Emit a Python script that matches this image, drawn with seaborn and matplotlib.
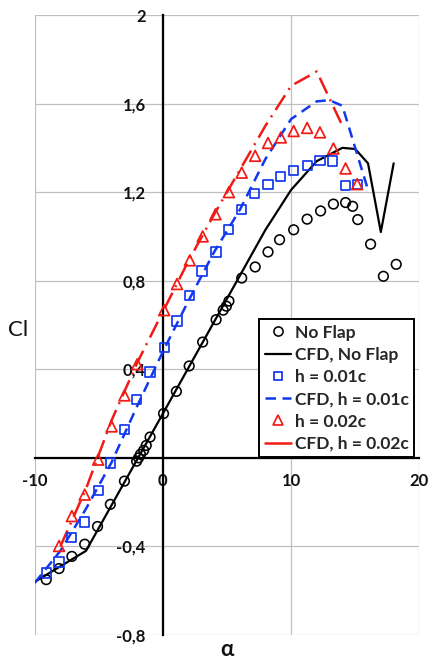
import matplotlib
matplotlib.use("Agg")
import matplotlib.pyplot as plt
from matplotlib.lines import Line2D
import seaborn as sns

# ---------------- data ----------------
noflap_alpha = [-9.1, -8.1, -7.1, -6.1, -5.1, -4.1, -3.0, -2.05, -1.9, -1.75, -1.5, -1.3, -1.0,
                0.05, 1.05, 2.05, 3.1, 4.15, 4.7, 4.95, 5.15, 6.15, 7.2, 8.2, 9.1, 10.2,
                11.25, 12.3, 13.3, 14.25, 14.8, 15.2, 16.2, 17.2, 18.2]
noflap_cl = [-0.55, -0.50, -0.445, -0.39, -0.31, -0.21, -0.105, -0.015, 0.0, 0.016, 0.034, 0.056, 0.094,
             0.20, 0.30, 0.415, 0.523, 0.624, 0.667, 0.685, 0.708, 0.812, 0.862, 0.93, 0.985, 1.03,
             1.078, 1.115, 1.146, 1.153, 1.136, 1.076, 0.965, 0.82, 0.874]

cfd_noflap_alpha = [-10, -6, 0, 8, 10, 12, 14, 15, 16, 17, 18]
cfd_noflap_cl = [-0.56, -0.42, 0.20, 1.03, 1.21, 1.34, 1.40, 1.395, 1.33, 1.02, 1.33]

h01_alpha = [-9.1, -8.1, -7.1, -6.1, -5.05, -4.1, -3.0, -2.05, -1.0, 0.1, 1.1, 2.05, 3.05,
             4.15, 5.1, 6.15, 7.15, 8.2, 9.2, 10.2, 11.25, 12.25, 13.2, 14.25, 15.2]
h01_cl = [-0.52, -0.47, -0.36, -0.29, -0.147, -0.023, 0.129, 0.264, 0.388, 0.50, 0.618, 0.734, 0.844,
          0.93, 1.031, 1.122, 1.194, 1.236, 1.272, 1.296, 1.319, 1.344, 1.341, 1.231, 1.235]

cfd_h01_alpha = [-10, -8, -6, -4, -2, 0, 2, 4, 6, 8, 10, 12, 13, 14, 15, 16]
cfd_h01_cl = [-0.565, -0.42, -0.23, -0.02, 0.235, 0.48, 0.71, 0.93, 1.12, 1.35, 1.53, 1.61, 1.615, 1.59, 1.40, 1.21]

h02_alpha = [-8.1, -7.1, -6.1, -5.05, -4.0, -3.0, -2.0, 0.1, 1.1, 2.1, 3.1, 4.1, 5.15, 6.15,
             7.2, 8.2, 9.2, 10.2, 11.25, 12.25, 13.3, 14.25, 15.15]
h02_cl = [-0.398, -0.263, -0.166, -0.008, 0.142, 0.282, 0.423, 0.667, 0.785, 0.892, 1.0, 1.10, 1.20, 1.288,
          1.364, 1.422, 1.447, 1.476, 1.49, 1.47, 1.397, 1.307, 1.236]

cfd_h02_alpha = [-8, -6, -4, -2, 0, 2, 4, 6, 8, 10, 12, 14]
cfd_h02_cl = [-0.40, -0.14, 0.17, 0.43, 0.66, 0.89, 1.10, 1.30, 1.50, 1.68, 1.745, 1.50]

x_ticks = [-10, 0, 10, 20]
x_ticklabels = ["-10", "0", "10", "20"]
y_ticks = [-0.8, -0.4, 0.4, 0.8, 1.2, 1.6, 2.0]
y_ticklabels = ["-0,8", "-0,4", "0,4", "0,8", "1,2", "1,6", "2"]
y_grid = [-0.8, -0.4, 0.0, 0.4, 0.8, 1.2, 1.6, 2.0]

legend_labels = ["No Flap", "CFD, No Flap", "h = 0.01c", "CFD, h = 0.01c", "h = 0.02c", "CFD, h = 0.02c"]

# ---------------- style ----------------
sns.set_style("white")
plt.rcParams["font.family"] = ["Lato", "DejaVu Sans"]

BLUE = "#1238ee"
RED = "#f21a14"
GRID = "#c0c0c0"

fig = plt.figure(figsize=(4.30, 6.71), dpi=100)
ax = fig.add_axes([34.7 / 430, 1 - 635 / 671, (419.3 - 34.7) / 430, (635 - 15) / 671])

# grid
for xv in x_ticks:
    ax.axvline(xv, color=GRID, lw=0.9, zorder=0)
for yv in y_grid:
    ax.axhline(yv, color=GRID, lw=0.9, zorder=0)

# lines
sns.lineplot(x=cfd_noflap_alpha, y=cfd_noflap_cl, color="black", lw=1.6, ax=ax,
             estimator=None, sort=False, zorder=3)
sns.lineplot(x=cfd_h01_alpha, y=cfd_h01_cl, color=BLUE, lw=1.8, ax=ax,
             estimator=None, sort=False, linestyle=(0, (4.2, 2.6)), zorder=3)
sns.lineplot(x=cfd_h02_alpha, y=cfd_h02_cl, color=RED, lw=1.8, ax=ax,
             estimator=None, sort=False, linestyle=(0, (7.0, 2.6, 0.8, 2.6)), zorder=3)

# markers
sns.scatterplot(x=noflap_alpha, y=noflap_cl, marker="o", s=48, facecolor="none",
                edgecolor="black", linewidth=1.15, ax=ax, zorder=4)
sns.scatterplot(x=h01_alpha, y=h01_cl, marker="s", s=44, facecolor="none",
                edgecolor=BLUE, linewidth=1.25, ax=ax, zorder=4)
sns.scatterplot(x=h02_alpha, y=h02_cl, marker="^", s=60, facecolor="none",
                edgecolor=RED, linewidth=1.25, ax=ax, zorder=4)

ax.set_xlim(-10, 20)
ax.set_ylim(-0.8, 2.0)

# axes through origin
for side in ["top", "right"]:
    ax.spines[side].set_visible(False)
ax.spines["left"].set_position(("data", 0))
ax.spines["bottom"].set_position(("data", 0))
for side in ["left", "bottom"]:
    ax.spines[side].set_color("black")
    ax.spines[side].set_linewidth(1.6)
    ax.spines[side].set_zorder(2)

ax.set_xticks(x_ticks, labels=x_ticklabels)
ax.set_yticks(y_ticks, labels=y_ticklabels)
ax.tick_params(axis="x", length=0, pad=11, labelsize=12)
ax.tick_params(axis="y", length=0, pad=12.5, labelsize=12)
for lab in ax.get_xticklabels() + ax.get_yticklabels():
    lab.set_fontweight("bold")
    lab.set_color("#111111")

ax.set_xlabel("")
ax.set_ylabel("")
fig.text(18 / 430, 1 - 330 / 671, "Cl", fontsize=16, ha="center", va="center", color="#111111")
fig.text(227 / 430, 1 - 650 / 671, "α", fontsize=16, fontweight="bold", ha="center", va="center",
         color="#111111")

# legend
handles = [
    Line2D([], [], ls="none", marker="o", mfc="none", mec="black", ms=6.6, mew=1.15),
    Line2D([], [], color="black", lw=1.6),
    Line2D([], [], ls="none", marker="s", mfc="none", mec=BLUE, ms=6.4, mew=1.25),
    Line2D([], [], color=BLUE, lw=1.8, linestyle=(0, (4.2, 2.6))),
    Line2D([], [], ls="none", marker="^", mfc="none", mec=RED, ms=7.2, mew=1.25),
    Line2D([], [], color=RED, lw=1.8),
]
leg = ax.legend(handles, legend_labels, loc="lower right",
                bbox_to_anchor=((414 - 34.7) / 384.6, (635 - 457) / 620),
                frameon=True, fancybox=False, framealpha=1, edgecolor="black",
                prop={"size": 12.5, "weight": "bold"}, handlelength=1.55, handletextpad=0.2,
                labelspacing=0.36, borderpad=0.3, borderaxespad=0)
leg.get_frame().set_linewidth(1.4)
leg.set_zorder(6)

fig.savefig("out.png", dpi=100)
